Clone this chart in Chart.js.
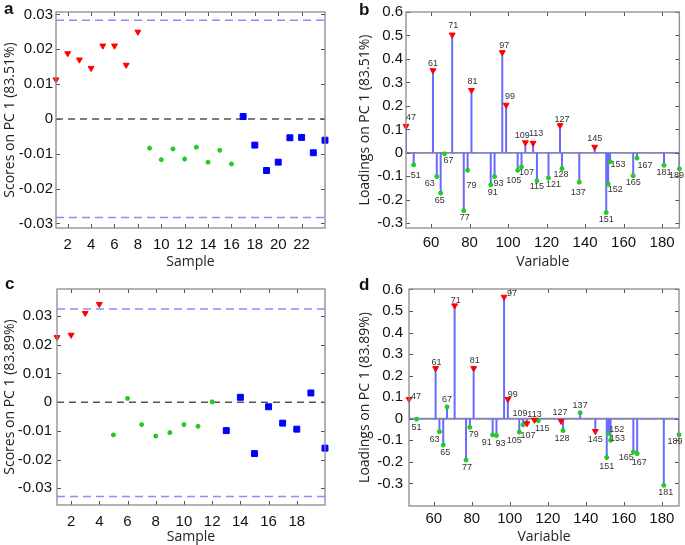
<!DOCTYPE html>
<html><head><meta charset="utf-8">
<script src="https://cdn.jsdelivr.net/npm/chart.js@4.4.0/dist/chart.umd.min.js"></script>
<style>
html,body{margin:0;padding:0;background:#fff;}
#wrap{position:relative;width:685px;height:545px;overflow:hidden;background:#fff;}
canvas{position:absolute;}
.lbl{position:absolute;font:bold 17px "Liberation Sans",Arial,sans-serif;color:#111;line-height:17px;}
</style></head><body>
<div id="wrap">
<canvas id="ca" width="340" height="270" style="left:0;top:0"></canvas>
<canvas id="cb" width="345" height="270" style="left:340px;top:0"></canvas>
<canvas id="cc" width="340" height="275" style="left:0;top:270px"></canvas>
<canvas id="cd" width="345" height="275" style="left:340px;top:270px"></canvas>
<div class="lbl" style="left:4px;top:0px">a</div>
<div class="lbl" style="left:359px;top:1px">b</div>
<div class="lbl" style="left:5px;top:275px">c</div>
<div class="lbl" style="left:359px;top:276px">d</div>
</div>
<script>
// ---------- data: panel a (scores, PC 1 83.51%) ----------
const samplesA = [1,2,3,4,5,6,7,8,9,10,11,12,13,14,15,16,17,18,19,20,21,22,23,24];
const scoresA = [0.0113,0.0188,0.0170,0.0146,0.0210,0.0210,0.0155,0.0250,
  -0.0084,-0.0117,-0.0086,-0.0115,-0.0081,-0.0124,-0.0090,-0.0129,
  0.0007,-0.0075,-0.0148,-0.0124,-0.0054,-0.0053,-0.0097,-0.0061];
const classesA = [1,1,1,1,1,1,1,1,2,2,2,2,2,2,2,2,3,3,3,3,3,3,3,3];
const limitsA = [-0.0283, 0.0283];
const xRangeA = [1, 24];
const yRangeA = [-0.0313, 0.0307];
const xTicksA = [2,4,6,8,10,12,14,16,18,20,22];
const yTicksA = [-0.03,-0.02,-0.01,0,0.01,0.02,0.03];

// ---------- data: panel c (scores, PC 1 83.89%) ----------
const samplesC = [1,2,3,4,5,6,7,8,9,10,11,12,13,14,15,16,17,18,19,20];
const scoresC = [0.0226,0.0234,0.0310,0.0341,
  -0.0114,0.0013,-0.0078,-0.0118,-0.0106,-0.0078,-0.0084,0.0001,
  -0.0099,0.0017,-0.0179,-0.0016,-0.0073,-0.0094,0.0032,-0.0160];
const classesC = [1,1,1,1,2,2,2,2,2,2,2,2,3,3,3,3,3,3,3,3];
const limitsC = [-0.0328, 0.0324];
const xRangeC = [1, 20];
const yRangeC = [-0.0358, 0.0394];
const xTicksC = [2,4,6,8,10,12,14,16,18];
const yTicksC = [-0.03,-0.02,-0.01,0,0.01,0.02,0.03];

// ---------- data: panel b (loadings, PC 1 83.51%) ----------
const variablesB = [47,51,61,63,65,67,71,77,79,81,91,93,97,99,105,107,109,113,115,121,127,128,137,145,151,152,153,165,167,181,189];
const loadingsB = [0.114,-0.051,0.351,-0.101,-0.171,-0.004,0.503,-0.246,-0.074,0.267,-0.136,-0.101,0.428,0.204,-0.074,-0.060,0.044,0.042,-0.119,-0.107,0.117,-0.067,-0.125,0.025,-0.254,-0.133,-0.038,-0.097,-0.022,-0.053,-0.068];
// ---------- data: panel d (loadings, PC 1 83.89%) ----------
const variablesD = [47,51,61,63,65,67,71,77,79,81,91,93,97,99,105,107,109,113,115,127,128,137,145,151,152,153,165,167,181,189];
const loadingsD = [0.091,-0.002,0.234,-0.060,-0.122,0.055,0.525,-0.192,-0.040,0.234,-0.075,-0.078,0.565,0.091,-0.062,-0.028,-0.022,-0.006,-0.009,-0.011,-0.055,0.028,-0.058,-0.180,-0.068,-0.100,-0.154,-0.162,-0.309,-0.074];
const markedVariables = [47,61,71,81,97,99,109,113,127,145];
const xRangeL = [47, 189];
const yRangeB = [-0.32, 0.6];
const yRangeD = [-0.405, 0.602];
const xTicksL = [60,80,100,120,140,160,180];
const yTicksL = [-0.3,-0.2,-0.1,0,0.1,0.2,0.3,0.4,0.5,0.6];

// ---------- label placement (pixel offsets from marker) ----------
const labelPosB = {47:[5,-9],51:[2,11],61:[0,-7],63:[-7,7],65:[-1,7],67:[4,7],71:[1,-9],77:[1,7],79:[4,15],81:[1,-9],
  91:[2,8],93:[4,7],97:[2,-7],99:[4,-8],105:[-4,10],107:[5,6],109:[-3,-7],113:[3,-9],115:[0,6],121:[5,7],
  127:[2,-6],128:[-1,6],137:[-1,10],145:[0,-8],151:[0,7],152:[7,5],153:[8,3],165:[0,7],167:[8,7],181:[0,7],189:[-3,7]};
const labelPosD = {47:[7,-3],51:[0,8],61:[1,-6],63:[-5,8],65:[2,7],67:[0,-7],71:[1,-5],77:[1,7],79:[4,7],81:[1,-8],
  91:[-6,8],93:[4,8],97:[8,-3],99:[5,-5],105:[-5,8],107:[5,11],109:[-7,-10],113:[0,-6],115:[4,8],127:[-1,-9],
  128:[-1,8],137:[0,-7],145:[0,8],151:[0,9],152:[8,-4],153:[7,-2],165:[-7,6],167:[2,9],181:[2,7],189:[-4,7]};

// ---------- styles ----------
const TICK_FONT = {family:'"Liberation Sans", Arial, sans-serif', size:15};
const TITLE_FONT = {family:'"Open Sans", "Liberation Sans", sans-serif', size:14};
const RED = '#ff0000', GREEN = '#22cc22', BLUE = '#0000ff', STEM = '#6a6aff';

function fmt(v){ return String(+(+v).toFixed(4)); }

function framePlugin(){
  return { id:'frame', afterDatasetsDraw(chart){
    const {ctx, chartArea:{left,right,top,bottom}, scales:{x,y}} = chart;
    ctx.save();
    ctx.strokeStyle = '#555'; ctx.lineWidth = 1; ctx.beginPath();
    const L = 4;
    x.ticks.forEach(t=>{ const p = Math.round(x.getPixelForValue(t.value))+0.5;
      ctx.moveTo(p,bottom); ctx.lineTo(p,bottom-L); ctx.moveTo(p,top); ctx.lineTo(p,top+L); });
    y.ticks.forEach(t=>{ const p = Math.round(y.getPixelForValue(t.value))+0.5;
      ctx.moveTo(left,p); ctx.lineTo(left+L,p); ctx.moveTo(right,p); ctx.lineTo(right-L,p); });
    ctx.stroke();
    ctx.strokeStyle = '#8a8a8a'; ctx.lineWidth = 1.3;
    ctx.strokeRect(left, top, right-left, bottom-top);
    ctx.restore();
  }};
}

function stemLabelPlugin(vars, vals, pos){
  return { id:'stemLabels', afterDatasetsDraw(chart){
    const {ctx, scales:{x,y}} = chart;
    ctx.save();
    ctx.font = '9px "Liberation Sans", Arial, sans-serif';
    ctx.fillStyle = '#333'; ctx.textAlign = 'center'; ctx.textBaseline = 'middle';
    vars.forEach((v,i)=>{
      const o = pos[v] || [0, vals[i] >= 0 ? -8 : 8];
      ctx.fillText(String(v), x.getPixelForValue(v)+o[0], y.getPixelForValue(vals[i])+o[1]);
    });
    ctx.restore();
  }};
}

function axes(o){
  return {
    x: { type:'linear', min:o.xr[0], max:o.xr[1], offset:false,
      afterBuildTicks: s => { s.ticks = o.xt.map(v=>({value:v})); },
      afterFit: s => { s.height = o.xh; },
      ticks:{ autoSkip:false, maxRotation:0, font:TICK_FONT, color:'#111', padding:o.xpad, callback:v=>fmt(v) },
      grid:{ display:false, drawTicks:false }, border:{ display:false },
      title:{ display:true, text:o.xtitle, font:TITLE_FONT, color:'#222', padding:{top:o.xtp, bottom:0} } },
    y: { type:'linear', min:o.yr[0], max:o.yr[1],
      afterBuildTicks: s => { s.ticks = o.yt.map(v=>({value:v})); },
      afterFit: s => { s.width = o.yw; },
      ticks:{ autoSkip:false, font:TICK_FONT, color:'#111', padding:o.ypad, callback:v=>fmt(v) },
      grid:{ display:false, drawTicks:false }, border:{ display:false },
      title:{ display:true, text:o.ytitle, font:TITLE_FONT, color:'#222', padding:{top:o.ytp, bottom:0} } }
  };
}

const TRI = {pointStyle:'triangle', rotation:180, radius:3.4, backgroundColor:RED, borderColor:RED, borderWidth:1, clip:false};
const STAR = {pointStyle:'star', radius:2.4, backgroundColor:GREEN, borderColor:GREEN, borderWidth:1.6, clip:false};
const SQR = {pointStyle:'rect', radius:4.2, backgroundColor:BLUE, borderColor:BLUE, borderWidth:1, clip:false};

function scoresChart(id, xs, ys, cls, lim, o){
  const sel = c => xs.map((x,i)=>({x, y:ys[i]})).filter((p,i)=>cls[i]===c);
  const span = yv => [{x:o.xr[0], y:yv},{x:o.xr[1], y:yv}];
  new Chart(document.getElementById(id), {
    type:'scatter',
    data:{ datasets:[
      Object.assign({data:sel(1)}, TRI),
      Object.assign({data:sel(2)}, STAR),
      Object.assign({data:sel(3)}, SQR),
      {data:span(0), showLine:true, pointRadius:0, borderColor:'#555', borderWidth:1.5, borderDash:[7,5]},
      {data:span(lim[1]), showLine:true, pointRadius:0, borderColor:'#8c8cff', borderWidth:1.5, borderDash:[8,5]},
      {data:span(lim[0]), showLine:true, pointRadius:0, borderColor:'#8c8cff', borderWidth:1.5, borderDash:[8,5]}
    ]},
    options:{ responsive:false, animation:false, devicePixelRatio:1,
      layout:{ padding:o.pad },
      plugins:{ legend:{display:false}, tooltip:{enabled:false} },
      scales: axes(o) },
    plugins:[framePlugin()]
  });
}

function loadingsChart(id, vars, vals, pos, o){
  const stems = [];
  vars.forEach((v,i)=>{ stems.push({x:v,y:0},{x:v,y:vals[i]},{x:v,y:null}); });
  const red = vars.map((v,i)=>({x:v,y:vals[i]})).filter(p=>markedVariables.includes(p.x));
  const green = vars.map((v,i)=>({x:v,y:vals[i]})).filter(p=>!markedVariables.includes(p.x));
  const span = [{x:o.xr[0], y:0},{x:o.xr[1], y:0}];
  new Chart(document.getElementById(id), {
    type:'scatter',
    data:{ datasets:[
      Object.assign({data:red}, TRI),
      Object.assign({data:green}, STAR),
      {data:stems, showLine:true, spanGaps:false, pointRadius:0, borderColor:STEM, borderWidth:2},
      {data:span, showLine:true, pointRadius:0, borderColor:'#8080ff', borderWidth:1.5, borderDash:[5,6]},
      {data:span, showLine:true, pointRadius:0, borderColor:'#8c8c8c', borderWidth:1.8}
    ]},
    options:{ responsive:false, animation:false, devicePixelRatio:1,
      layout:{ padding:o.pad },
      plugins:{ legend:{display:false}, tooltip:{enabled:false} },
      scales: axes(o) },
    plugins:[framePlugin(), stemLabelPlugin(vars, vals, pos)]
  });
}

scoresChart('ca', samplesA, scoresA, classesA, limitsA, {
  xr:xRangeA, yr:yRangeA, xt:xTicksA, yt:yTicksA, xtitle:'Sample', ytitle:'Scores on PC 1 (83.51%)',
  pad:{top:9, right:15, bottom:0, left:0}, xh:42, yw:56, xpad:8, ypad:3, xtp:8, ytp:1.6 });
scoresChart('cc', samplesC, scoresC, classesC, limitsC, {
  xr:xRangeC, yr:yRangeC, xt:xTicksC, yt:yTicksC, xtitle:'Sample', ytitle:'Scores on PC 1 (83.89%)',
  pad:{top:19, right:15, bottom:0, left:0}, xh:40, yw:57, xpad:8, ypad:5, xtp:2.6, ytp:1.6 });
loadingsChart('cb', variablesB, loadingsB, labelPosB, {
  xr:xRangeL, yr:yRangeB, xt:xTicksL, yt:yTicksL, xtitle:'Variable', ytitle:'Loadings on PC 1 (83.51%)',
  pad:{top:9, right:4, bottom:0, left:0}, xh:42, yw:66, xpad:6, ypad:3, xtp:8.5, ytp:17 });
loadingsChart('cd', variablesD, loadingsD, labelPosD, {
  xr:xRangeL, yr:yRangeD, xt:xTicksL, yt:yTicksL, xtitle:'Variable', ytitle:'Loadings on PC 1 (83.89%)',
  pad:{top:19, right:6, bottom:0, left:0}, xh:39, yw:69, xpad:4, ypad:6, xtp:6.5, ytp:16.6 });
</script>
</body></html>
